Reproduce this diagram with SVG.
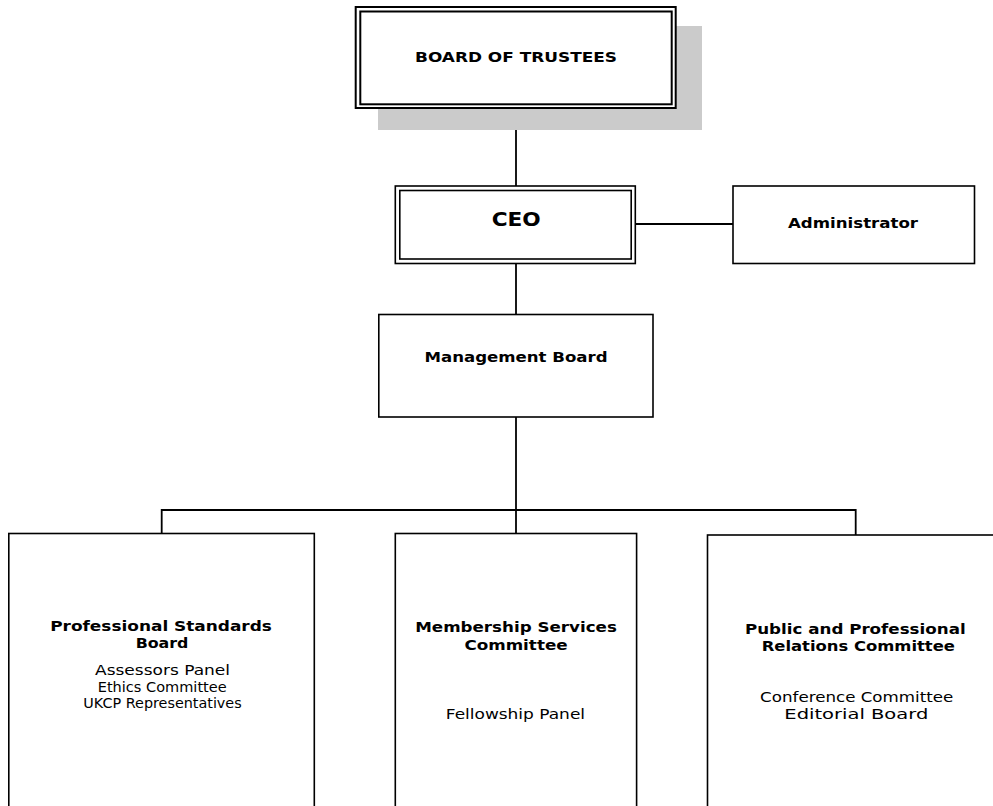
<svg xmlns="http://www.w3.org/2000/svg" width="993" height="806" viewBox="0 0 993 806">
<style>
.box{fill:#fff;stroke:#000;stroke-width:1.6}
.dbl{fill:none;stroke:#000;stroke-width:1.6}
.ln{stroke:#000;stroke-width:1.8;fill:none}
text{font-family:"DejaVu Sans","Verdana",sans-serif;fill:#000;text-anchor:middle}
.b{font-weight:bold;font-size:14.5px}
.r{font-size:14.5px}
</style>
<rect width="993" height="806" fill="#fff"/>
<g id="connectors">
<line class="ln" x1="516" y1="108" x2="516" y2="186"/>
<line class="ln" x1="516" y1="263" x2="516" y2="315"/>
<line class="ln" x1="635" y1="224" x2="733" y2="224"/>
<line class="ln" x1="516" y1="417" x2="516" y2="534"/>
<polyline class="ln" points="161.7,534 161.7,510 855.7,510 855.7,535"/>
</g>
<g id="board-of-trustees">
<rect x="378" y="26" width="324" height="104" fill="#cbcbcb"/>
<rect x="355.7" y="7" width="320" height="101" fill="#fff" stroke="#000" stroke-width="2"/>
<rect x="360.3" y="11.5" width="311.4" height="92.8" fill="none" stroke="#000" stroke-width="2"/>
<text class="b" transform="translate(516,62.3) scale(1.18,1)" textLength="171.2" lengthAdjust="spacingAndGlyphs">BOARD OF TRUSTEES</text>
</g>
<g id="ceo">
<rect class="box" x="395.3" y="186" width="240" height="77.5"/>
<rect class="dbl" x="399.8" y="190.5" width="231.4" height="68.5"/>
<text transform="translate(516.2,226) scale(1.12,1)" font-weight="bold" font-size="19.5" textLength="43.8" lengthAdjust="spacingAndGlyphs">CEO</text>
</g>
<g id="administrator">
<rect class="box" x="733" y="186" width="241.5" height="77.5"/>
<text class="b" transform="translate(853,228.3) scale(1.18,1)" textLength="110.2" lengthAdjust="spacingAndGlyphs">Administrator</text>
</g>
<g id="management-board">
<rect class="box" x="378.8" y="314.5" width="274.2" height="102.5"/>
<text class="b" transform="translate(516,362.3) scale(1.18,1)" textLength="155.1" lengthAdjust="spacingAndGlyphs">Management Board</text>
</g>
<g id="professional-standards-board">
<rect class="box" x="8.8" y="533.5" width="305.5" height="290"/>
<text class="b" transform="translate(161,630.8) scale(1.18,1)" textLength="187.9" lengthAdjust="spacingAndGlyphs">Professional Standards</text>
<text class="b" transform="translate(162,648.2) scale(1.18,1)" textLength="44.7" lengthAdjust="spacingAndGlyphs">Board</text>
<text class="r" transform="translate(162.5,675) scale(1.18,1)" textLength="114.4" lengthAdjust="spacingAndGlyphs">Assessors Panel</text>
<text class="r" transform="translate(162.2,691.5) scale(1.18,1)" textLength="109.3" lengthAdjust="spacingAndGlyphs">Ethics Committee</text>
<text class="r" transform="translate(162.5,708) scale(1.18,1)" textLength="134.2" lengthAdjust="spacingAndGlyphs">UKCP Representatives</text>
</g>
<g id="membership-services-committee">
<rect class="box" x="395.3" y="533.5" width="241.3" height="290"/>
<text class="b" transform="translate(516,632.2) scale(1.18,1)" textLength="170.9" lengthAdjust="spacingAndGlyphs">Membership Services</text>
<text class="b" transform="translate(516,649.5) scale(1.18,1)" textLength="87.5" lengthAdjust="spacingAndGlyphs">Committee</text>
<text class="r" transform="translate(515.4,718.8) scale(1.18,1)" textLength="118" lengthAdjust="spacingAndGlyphs">Fellowship Panel</text>
</g>
<g id="public-professional-relations-committee">
<rect class="box" x="707.5" y="535" width="297" height="290"/>
<text class="b" transform="translate(855.3,633.8) scale(1.18,1)" textLength="187" lengthAdjust="spacingAndGlyphs">Public and Professional</text>
<text class="b" transform="translate(858.3,651.2) scale(1.18,1)" textLength="163.8" lengthAdjust="spacingAndGlyphs">Relations Committee</text>
<text class="r" transform="translate(856.7,702.2) scale(1.18,1)" textLength="163.8" lengthAdjust="spacingAndGlyphs">Conference Committee</text>
<text class="r" transform="translate(856.3,718.8) scale(1.18,1)" textLength="122" lengthAdjust="spacingAndGlyphs">Editorial Board</text>
</g>
</svg>
